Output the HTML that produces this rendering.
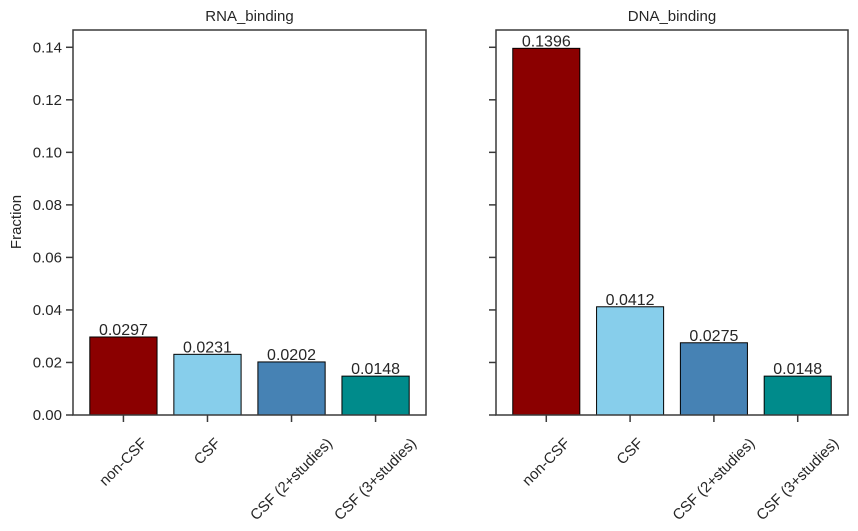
<!DOCTYPE html>
<html><head><meta charset="utf-8"><style>
body{margin:0;background:#fff}
svg{font-family:"Liberation Sans",Arial,sans-serif;fill:#262626}
</style></head><body>
<svg id="c" width="858" height="526"></svg>
<script>
const categories=["non-CSF","CSF","CSF (2+studies)","CSF (3+studies)"];
const rnaValues=[0.0297,0.0231,0.0202,0.0148];
const dnaValues=[0.1396,0.0412,0.0275,0.0148];
const panelTitles=["RNA_binding","DNA_binding"];
const yTicks=[0,0.02,0.04,0.06,0.08,0.10,0.12,0.14];
const yTickLabels=["0.00","0.02","0.04","0.06","0.08","0.10","0.12","0.14"];
const colors=["#8b0000","#87ceeb","#4682b4","#008b8b"];
const NS="http://www.w3.org/2000/svg";
const svgEl=document.getElementById('c');
function el(t,a,p){const e=document.createElementNS(NS,t);for(const k in a)e.setAttribute(k,a[k]);(p||svgEl).appendChild(e);return e;}
const yTop=30,yBot=415,yMaxVal=0.14658;
const yScale=v=>yBot-(v/yMaxVal)*(yBot-yTop);
const panels=[{x0:73,x1:426,vals:rnaValues,labels:true},{x0:496,x1:848,vals:dnaValues,labels:false}];
panels.forEach((p,pi)=>{
  const g=el('g',{});
  
  
  const xs=i=>p.x0+(i+0.6)*(p.x1-p.x0)/4.2;
  const bw=0.8*(p.x1-p.x0)/4.2;
  p.vals.forEach((v,i)=>{
    const r=el('rect',{x:xs(i)-bw/2,y:yScale(v),width:bw,height:yBot-yScale(v),fill:colors[i],stroke:'#000','stroke-width':1},g);
    
    
    const t=el('text',{x:xs(i),y:yScale(v)-2,'text-anchor':'middle','font-size':16},g);
    t.textContent=v.toFixed(4);
    
    
    el('line',{x1:xs(i),x2:xs(i),y1:yBot,y2:yBot+7,stroke:'#3a3a3a','stroke-width':1.5},g);
    const lg=el('g',{},g);
    const l=el('text',{x:0,y:0,'text-anchor':'end','font-size':15,transform:'rotate(-45)'},lg);
    l.textContent=categories[i];
    
    
    const bb=lg.getBBox();
    lg.setAttribute('transform',`translate(${xs(i)-(bb.x+bb.width/2)},${yBot+20-bb.y})`);
  });
  yTicks.forEach((v,i)=>{
    el('line',{x1:p.x0-7,x2:p.x0,y1:yScale(v),y2:yScale(v),stroke:'#3a3a3a','stroke-width':1.5},g);
    if(p.labels){const t=el('text',{x:p.x0-11,y:yScale(v)+5,'text-anchor':'end','font-size':15},g);t.textContent=yTickLabels[i];
      
      }
  });
  const f=el('rect',{x:p.x0,y:yTop,width:p.x1-p.x0,height:yBot-yTop,fill:'none',stroke:'#3a3a3a','stroke-width':1.5},g);
  
  
  const tt=el('text',{x:(p.x0+p.x1)/2,y:yTop-9,'text-anchor':'middle','font-size':15},g);
  tt.textContent=panelTitles[pi];
  
  
});
const yl=el('text',{x:21,y:222,'text-anchor':'middle','font-size':15,transform:'rotate(-90 21 222)'});
yl.textContent='Fraction';


</script>
</body></html>
